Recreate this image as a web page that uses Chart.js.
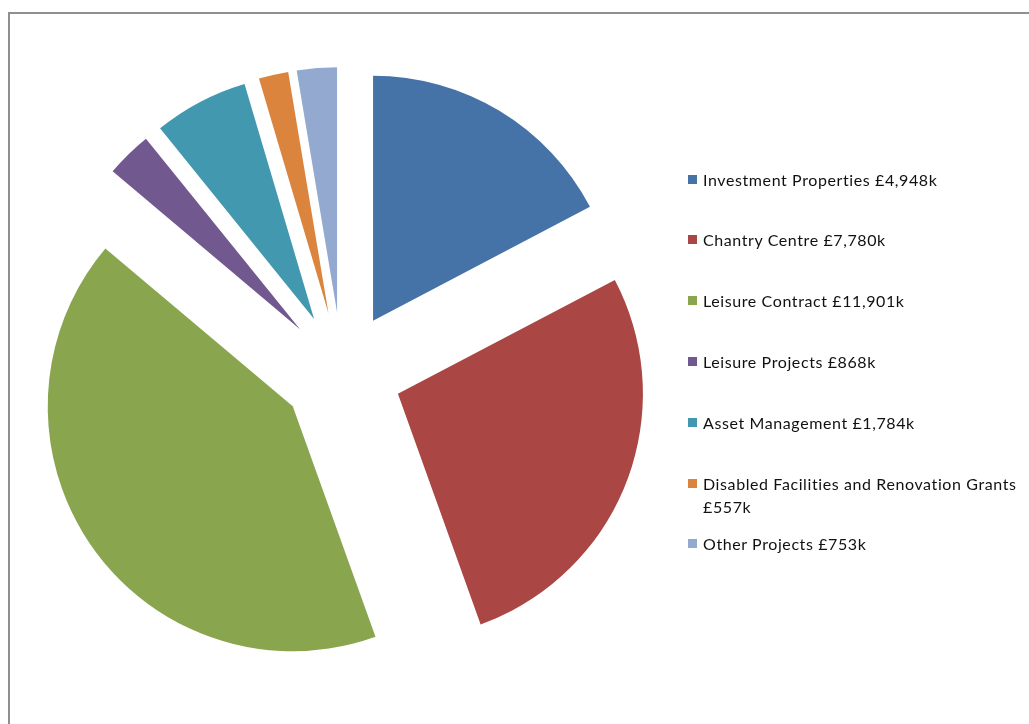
<!DOCTYPE html>
<html>
<head>
<meta charset="utf-8">
<script src="https://cdn.jsdelivr.net/npm/chart.js@4/dist/chart.umd.min.js"></script>
<style>
  html, body { margin: 0; padding: 0; background: #fff; }
  #wrap { position: relative; width: 1029px; height: 724px; overflow: hidden; }
  #frame { position: absolute; left: 8px; top: 12px; width: 1100px; height: 800px;
           border-left: 2px solid #8f8f8f; border-top: 2px solid #8f8f8f; }
  canvas { position: absolute; left: 0; top: 0; }
  #legend { position: absolute; left: 688px; top: 0; width: 341px;
            font-family: Lato, "Open Sans", sans-serif; font-size: 16px;
            letter-spacing: 0.6px; color: #111; }
  .item { position: absolute; left: 0; width: 338px; line-height: 23px; }
  .box { position: absolute; left: 0; top: 7px; width: 9px; height: 9px; }
  .txt { margin-left: 15px; }
</style>
</head>
<body>
<div id="wrap">
  <div id="frame"></div>
  <canvas id="chart" width="1029" height="724"></canvas>
  <div id="legend"></div>
</div>
<script>
const categories = [
  'Investment Properties',
  'Chantry Centre',
  'Leisure Contract',
  'Leisure Projects',
  'Asset Management',
  'Disabled Facilities and Renovation Grants',
  'Other Projects'
]
const values = [4948, 7780, 11901, 868, 1784, 557, 753]
const valueLabels = ['£4,948k', '£7,780k', '£11,901k', '£868k', '£1,784k', '£557k', '£753k']
const colors = ['#4572A7', '#AA4643', '#89A54E', '#71588F', '#4198AF', '#DB843D', '#93A9CF']

// arc that is pulled straight out along its middle angle, same radius for all
class ExplodedArc extends Chart.ArcElement {
  static id = 'explodedArc'
  draw(ctx) {
    const {x, y, startAngle, endAngle, outerRadius, options} = this
    const mid = (startAngle + endAngle) / 2
    const d = options.offset || 0
    ctx.save()
    ctx.translate(Math.cos(mid) * d, Math.sin(mid) * d)
    ctx.beginPath()
    ctx.moveTo(x, y)
    ctx.arc(x, y, outerRadius, startAngle, endAngle)
    ctx.closePath()
    ctx.fillStyle = options.backgroundColor
    ctx.fill()
    ctx.restore()
  }
}

class ExplodedPie extends Chart.PieController {
  static id = 'explodedPie'
  static defaults = { dataElementType: 'explodedArc' }
}

Chart.register(ExplodedArc, ExplodedPie)

new Chart(document.getElementById('chart').getContext('2d'), {
  type: 'explodedPie',
  data: {
    labels: categories,
    datasets: [{
      data: values,
      backgroundColor: colors,
      borderWidth: 0,
      offset: 60,
      radius: 245
    }]
  },
  options: {
    responsive: false,
    animation: false,
    layout: { padding: { left: 0, right: 345, top: 20, bottom: 0 } },
    plugins: { legend: { display: false }, tooltip: { enabled: false } }
  }
})

// legend
const legend = document.getElementById('legend')
categories.forEach(function(name, i) {
  const item = document.createElement('div')
  item.className = 'item'
  item.style.top = (179 + 60.8 * i - 11.5) + 'px'
  const box = document.createElement('div')
  box.className = 'box'
  box.style.background = colors[i]
  const txt = document.createElement('div')
  txt.className = 'txt'
  txt.textContent = name + ' ' + valueLabels[i]
  item.appendChild(box)
  item.appendChild(txt)
  legend.appendChild(item)
})
</script>
</body>
</html>
